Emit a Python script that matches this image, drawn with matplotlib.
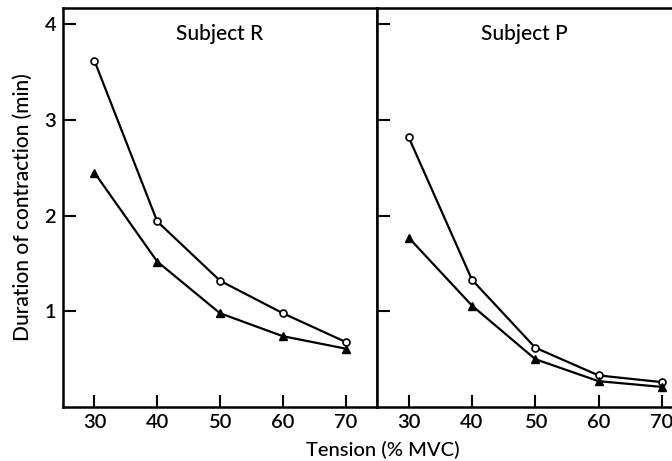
import matplotlib.pyplot as plt

plt.rcParams['font.family'] = ['Lato', 'DejaVu Sans']

tension = [30, 40, 50, 60, 70]

# Subject R
r_open = [3.62, 1.94, 1.32, 0.98, 0.68]
r_filled = [2.45, 1.52, 0.98, 0.74, 0.61]

# Subject P
p_open = [2.82, 1.33, 0.62, 0.33, 0.26]
p_filled = [1.77, 1.06, 0.50, 0.27, 0.21]

fig = plt.figure(figsize=(6.72, 4.61), dpi=100)
ax1 = fig.add_axes([63/672, 54/461, 314/672, 399/461])
ax2 = fig.add_axes([377/672, 54/461, 295/672, 399/461])

panels = [(ax1, r_open, r_filled, 'Subject R', 75),
          (ax2, p_open, p_filled, 'Subject P', 71.6)]

for ax, op, fi, title, xmax in panels:
    ax.plot(tension, op, '-o', color='black', lw=1.6, ms=5,
            mfc='white', mec='black', mew=1.2)
    ax.plot(tension, fi, '-^', color='black', lw=1.6, ms=6)
    ax.set_xlim(25, xmax)
    ax.set_ylim(0, 4.17)
    ax.set_xticks(tension)
    ax.set_yticks([1, 2, 3, 4])
    ax.tick_params(direction='in', length=9, width=1.5, labelsize=14.5, pad=5)
    for lab in ax.get_xticklabels() + ax.get_yticklabels():
        lab.set_fontweight('semibold')
    for s in ax.spines.values():
        s.set_linewidth(1.8)
    ax.text(0.5, 0.96, title, transform=ax.transAxes, ha='center',
            va='top', fontsize=15, fontweight='medium')

ax2.set_yticklabels([])
ax2.spines['right'].set_visible(False)
ax1.set_ylabel('Duration of contraction (min)', fontsize=15,
               fontweight='medium', labelpad=8)
fig.text(383/672, 1 - 450/461, 'Tension (% MVC)', ha='center', va='center',
         fontsize=14.5, fontweight='medium')

fig.savefig('out.png', dpi=100)
